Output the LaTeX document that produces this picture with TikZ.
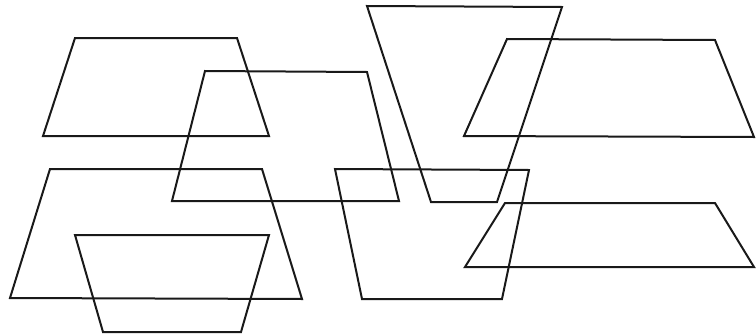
\documentclass[tikz,border=0pt]{standalone}
\begin{document}
\begin{tikzpicture}[x=1pt,y=-1pt,quadline/.style={draw=black!90,line width=2pt,line join=miter}]
\useasboundingbox (0,0) rectangle (756,335);
\draw[quadline] (75,38) -- (237,38) -- (269,136) -- (43,136) -- cycle;
\draw[quadline] (205,71) -- (367,72) -- (399,201) -- (172,201) -- cycle;
\draw[quadline] (367,6) -- (562,7) -- (497,202) -- (431,202) -- cycle;
\draw[quadline] (507,39) -- (715,40) -- (754,137) -- (464,136) -- cycle;
\draw[quadline] (50,169) -- (262,169) -- (302,299) -- (10,298) -- cycle;
\draw[quadline] (75,235) -- (269,235) -- (241,332) -- (103,332) -- cycle;
\draw[quadline] (335,169) -- (529,170) -- (502,299) -- (362,299) -- cycle;
\draw[quadline] (505,203) -- (715,203) -- (754,267) -- (465,267) -- cycle;
\end{tikzpicture}
\end{document}
